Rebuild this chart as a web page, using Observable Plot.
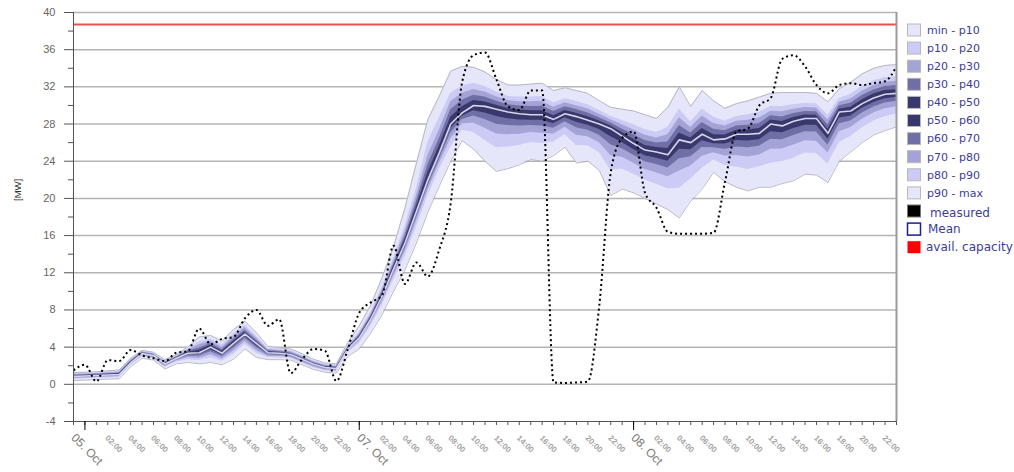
<!DOCTYPE html>
<html>
<head>
<meta charset="utf-8">
<script src="https://cdn.jsdelivr.net/npm/d3@7"></script>
<script src="https://cdn.jsdelivr.net/npm/@observablehq/plot@0.6"></script>
<style>
  html, body { margin: 0; padding: 0; background: #fff; }
  #chart { position: relative; width: 1014px; height: 472px; }
  #legend { position: absolute; left: 896px; top: 0; }
</style>
</head>
<body>
<div id="chart"></div>
<script>
// Hourly forecast distribution of the power output [MW], 05 Oct 23:00 .. 08 Oct 23:00 (UTC)
const start = Date.UTC(2015, 9, 5, 23);

// percentile bands (min = p0, max = p100)
const p0 = [0.40,0.45,0.50,0.55,0.60,1.90,2.80,2.60,1.65,2.20,2.35,2.20,2.35,2.10,2.70,3.80,2.90,2.65,2.65,2.60,2.10,1.60,1.30,1.20,
  3.0,3.8,5.5,7.5,10.0,12.3,15.2,18.5,21.3,
  24.0,26.2,25.3,24.0,22.9,23.2,23.6,24.2,24.0,24.6,25.5,23.8,24.0,23.0,20.3,21.0,20.6,20.0,19.4,18.8,17.9,19.7,21.0,22.8,21.8,21.2,20.8,21.2,21.2,21.6,21.9,22.6,22.5,21.7,24.0,25.0,26.0,26.8,27.3,27.7];
const p10 = [0.54,0.59,0.64,0.69,0.74,2.02,2.95,2.75,1.82,2.38,2.65,2.56,2.85,2.48,3.21,4.28,3.35,2.88,2.86,2.78,2.28,1.77,1.45,1.35,
  3.40,4.40,6.25,8.50,11.20,13.75,16.90,20.25,23.10,
  25.52,27.34,27.09,26.24,25.45,25.52,25.69,26.02,25.90,26.08,26.87,25.70,25.67,24.90,23.04,23.17,22.61,21.98,21.53,21.04,21.09,22.09,23.24,24.13,23.55,23.37,23.12,23.40,23.78,23.96,24.33,24.88,24.82,23.71,26.01,26.67,27.60,28.32,28.78,29.07];
const p20 = [0.63,0.68,0.73,0.78,0.83,2.10,3.05,2.85,1.93,2.50,2.85,2.80,3.18,2.73,3.55,4.60,3.65,3.03,3.00,2.90,2.40,1.88,1.55,1.45,
  3.54,4.62,6.52,8.86,11.63,14.27,17.51,20.88,23.75,
  26.40,28.00,28.12,27.54,26.92,26.86,26.90,27.08,27.00,26.94,27.66,26.80,26.64,26.00,24.62,24.42,23.78,23.12,22.76,22.34,22.94,23.48,24.54,24.90,24.56,24.62,24.46,24.68,25.28,25.32,25.74,26.20,26.16,24.88,27.18,27.64,28.52,29.20,29.64,29.86];
const p30 = [0.72,0.77,0.82,0.87,0.92,2.18,3.15,2.95,2.04,2.62,3.05,3.04,3.51,2.98,3.89,4.92,3.95,3.18,3.14,3.02,2.52,1.99,1.65,1.55,
  3.64,4.76,6.70,9.10,11.92,14.62,17.92,21.30,24.18,
  27.04,28.48,28.87,28.48,27.99,27.84,27.78,27.85,27.80,27.56,28.24,27.60,27.34,26.80,25.77,25.33,24.63,23.95,23.66,23.28,24.28,24.49,25.48,25.46,25.30,25.53,25.44,25.61,26.37,26.31,26.76,27.16,27.14,25.73,28.03,28.34,29.19,29.84,30.26,30.44];
const p40 = [0.78,0.83,0.88,0.93,0.98,2.24,3.23,3.03,2.12,2.71,3.20,3.22,3.75,3.16,4.15,5.16,4.18,3.29,3.25,3.11,2.61,2.07,1.73,1.63,
  3.72,4.88,6.85,9.30,12.16,14.91,18.26,21.65,24.54,
  27.52,28.84,29.44,29.19,28.80,28.57,28.44,28.42,28.40,28.03,28.67,28.20,27.87,27.40,26.64,26.02,25.26,24.58,24.33,23.99,25.29,25.24,26.19,25.88,25.85,26.22,26.17,26.30,27.18,27.06,27.53,27.88,27.87,26.36,28.66,28.87,29.70,30.32,30.73,30.87];
const p50 = [0.85,0.90,0.95,1.00,1.05,2.30,3.30,3.10,2.20,2.80,3.35,3.40,4.00,3.35,4.40,5.40,4.40,3.40,3.35,3.20,2.70,2.15,1.80,1.70,
  3.80,5.00,7.00,9.50,12.40,15.20,18.60,22.00,24.90,
  28.00,29.20,30.00,29.90,29.60,29.30,29.10,29.00,29.00,28.50,29.10,28.80,28.40,28.00,27.50,26.70,25.90,25.20,25.00,24.70,26.30,26.00,26.90,26.30,26.40,26.90,26.90,27.00,28.00,27.80,28.30,28.60,28.60,27.00,29.30,29.40,30.20,30.80,31.20,31.30];
const p60 = [0.91,0.96,1.01,1.07,1.13,2.38,3.35,3.15,2.27,2.86,3.45,3.66,4.19,3.55,4.63,5.61,4.57,3.51,3.43,3.29,2.79,2.23,1.88,1.78,
  3.87,5.13,7.15,9.70,12.64,15.58,19.12,22.78,25.63,
  28.74,29.85,30.53,30.38,30.02,29.68,29.50,29.43,29.44,28.90,29.46,29.16,28.78,28.33,27.80,27.08,26.36,25.69,25.47,25.36,27.04,26.51,27.51,26.85,26.83,27.33,27.37,27.51,28.43,28.27,28.70,28.96,28.95,27.44,29.63,29.80,30.62,31.22,31.60,31.70];
const p70 = [0.98,1.02,1.07,1.14,1.20,2.45,3.41,3.21,2.34,2.92,3.55,3.91,4.38,3.74,4.85,5.82,4.75,3.61,3.52,3.38,2.88,2.32,1.95,1.85,
  3.94,5.26,7.30,9.90,12.88,15.96,19.64,23.63,26.43,
  29.54,30.55,31.11,30.90,30.46,30.08,29.94,29.89,29.92,29.34,29.86,29.56,29.18,28.68,28.12,27.48,26.85,26.23,25.97,26.08,27.84,27.05,28.17,27.43,27.29,27.79,27.87,28.05,28.89,28.77,29.14,29.36,29.33,27.92,29.98,30.24,31.06,31.66,32.04,32.14];
const p80 = [1.06,1.10,1.15,1.23,1.30,2.55,3.48,3.28,2.43,3.00,3.68,4.25,4.63,4.00,5.15,6.10,4.98,3.75,3.63,3.50,3.00,2.43,2.05,1.95,
  4.02,5.42,7.48,10.14,13.17,16.42,20.26,24.60,27.34,
  30.39,31.30,31.72,31.45,30.94,30.52,30.40,30.39,30.43,29.80,30.28,29.98,29.62,29.05,28.47,27.92,27.37,26.80,26.51,26.84,28.69,27.64,28.87,28.06,27.79,28.29,28.41,28.64,29.39,29.31,29.60,29.78,29.73,28.43,30.35,30.70,31.54,32.14,32.50,32.60];
const p90 = [1.14,1.18,1.23,1.32,1.40,2.65,3.55,3.35,2.52,3.08,3.81,4.59,4.88,4.26,5.45,6.38,5.21,3.89,3.74,3.62,3.12,2.54,2.15,2.05,
  4.14,5.62,7.72,10.46,13.55,17.02,21.10,26.03,28.68,
  31.31,32.10,32.38,32.05,31.46,30.98,30.90,30.91,30.97,30.30,30.72,30.42,30.08,29.45,28.83,28.38,27.93,27.40,27.09,27.66,29.61,28.26,29.63,28.74,28.31,28.81,28.99,29.26,29.91,29.89,30.10,30.22,30.17,28.97,30.75,31.20,32.06,32.66,33.00,33.10];
const p100 = [1.27,1.30,1.35,1.45,1.55,2.80,3.65,3.45,2.65,3.20,4.00,5.10,5.25,4.65,5.90,6.80,5.55,4.10,3.90,3.80,3.30,2.70,2.30,2.20,
  4.5,6.3,8.5,11.5,14.8,19.0,23.8,28.5,31.0,
  33.7,34.2,34.1,33.6,32.8,32.2,32.2,32.3,32.4,31.6,31.9,31.6,31.3,30.5,29.8,29.6,29.4,29.0,28.6,29.8,32.0,29.9,31.6,30.5,29.7,30.2,30.5,30.9,31.3,31.4,31.4,31.4,31.3,30.4,31.8,32.5,33.4,34.0,34.3,34.4];

// ensemble mean
const mean = [0.85,0.90,0.95,1.00,1.05,2.30,3.30,3.10,2.20,2.80,3.35,3.40,4.00,3.35,4.40,5.40,4.40,3.40,3.35,3.20,2.70,2.15,1.80,1.70,
  3.80,5.00,7.00,9.50,12.40,15.20,18.60,22.00,24.90,
  28.00,29.20,30.00,29.90,29.60,29.30,29.10,29.00,29.00,28.50,29.10,28.80,28.40,28.00,27.50,26.70,25.90,25.20,25.00,24.70,26.30,26.00,26.90,26.30,26.40,26.90,26.90,27.00,28.00,27.80,28.30,28.60,28.60,27.00,29.30,29.40,30.20,30.80,31.20,31.30];

// measured output
const measured = [1.5,2.1,0.3,2.6,2.5,3.7,3.1,2.8,2.5,3.4,3.55,6.0,4.3,4.9,5.1,7.1,8.0,6.3,7.0,1.2,2.7,3.8,3.6,0.35,
  3.8,7.7,8.8,9.6,14.9,10.8,13.1,11.6,14.5,
  19.5,32.5,35.4,35.7,32.8,29.9,29.5,31.6,31.6,0.2,0.15,0.2,0.3,8.5,22.8,26.5,27.2,20.6,19.0,16.4,16.2,16.2,16.2,16.3,21.8,27.2,27.5,30.0,30.8,35.0,35.4,34.2,32.2,31.3,32.2,32.4,32.2,32.4,32.6,34.2];

// available capacity
const capacity = 38.7;

// axis ticks and labels
const yTicks = [-4, 0, 4, 8, 12, 16, 20, 24, 28, 32, 36, 40];
const yMinorTicks = [-2, 2, 6, 10, 14, 18, 22, 26, 30, 34, 38];
const dayTicks = [Date.UTC(2015, 9, 6), Date.UTC(2015, 9, 7), Date.UTC(2015, 9, 8)];
const dateLabels = ["05. Oct", "07. Oct", "08. Oct"];
const dateLabelTimes = [start, Date.UTC(2015, 9, 7), Date.UTC(2015, 9, 8)];

// legend
const legendLabels = ["min - p10", "p10 - p20", "p20 - p30", "p30 - p40", "p40 - p50",
  "p50 - p60", "p60 - p70", "p70 - p80", "p80 - p90", "p90 - max", "measured", "Mean", "avail. capacity"];
const shade = ["#e6e6fa", "#cbcbf5", "#a3a3d6", "#6f6fa6", "#38386c"];

const hours = d3.range(p50.length).map(i => new Date(start + i * 3600e3));
const end = hours[hours.length - 1];
const rows = hours.map((t, i) => ({
  t, p0: p0[i], p10: p10[i], p20: p20[i], p30: p30[i], p40: p40[i], p50: p50[i],
  p60: p60[i], p70: p70[i], p80: p80[i], p90: p90[i], p100: p100[i],
  mean: mean[i], measured: measured[i]
}));

// nested fills: outermost envelope first, darkest core last
const nested = [["p0", "p100"], ["p10", "p90"], ["p20", "p80"], ["p30", "p70"], ["p40", "p60"]];
const bandMarks = nested.map(([lo, hi], k) =>
  Plot.areaY(rows, {x: "t", y1: lo, y2: hi, fill: shade[k]}));

const hourFmt = d3.utcFormat("%H:%M");
const hourLabelTimes = hours.filter(d => d.getUTCHours() % 2 === 0 && d.getUTCHours() !== 0);
const dateRows = dateLabels.map((label, i) => ({label, t: new Date(dateLabelTimes[i])}));

const chart = Plot.plot({
  width: 1014,
  height: 472,
  marginLeft: 73,
  marginRight: 118,
  marginTop: 12,
  marginBottom: 51,
  style: {fontFamily: "Liberation Sans, Arial, sans-serif", background: "#fff", overflow: "visible"},
  x: {type: "utc", domain: [new Date(start), end]},
  y: {domain: [-4, 40]},
  marks: [
    Plot.gridY(yTicks.filter(v => v > -4), {stroke: "#b4b4b4", strokeOpacity: 1, strokeWidth: 1.5}),
    ...bandMarks,
    Plot.lineY(rows, {x: "t", y: "p0", stroke: "#a9a9b6", strokeWidth: 0.8}),
    Plot.lineY(rows, {x: "t", y: "p100", stroke: "#a9a9b6", strokeWidth: 0.8}),
    Plot.lineY(rows, {x: "t", y: "mean", stroke: "#d6d6ec", strokeWidth: 1.6}),
    Plot.lineY(rows, {x: "t", y: "measured", stroke: "#000", strokeWidth: 2,
      strokeDasharray: "2,3", strokeLinecap: "butt", curve: "monotone-x"}),
    Plot.ruleY([capacity], {stroke: "#e85050", strokeWidth: 2}),
    Plot.ruleX([end], {stroke: "#9a9a9a", strokeWidth: 2}),
    Plot.ruleX([new Date(start)], {stroke: "#555"}),
    Plot.ruleY([-4], {stroke: "#555"}),
    // y axis
    Plot.axisY(yTicks, {tickSize: 9, tickPadding: 9, fontSize: 11, fill: "#666", stroke: "#555",
      label: null, tickFormat: d => String(d)}),
    Plot.axisY(yMinorTicks, {tickSize: 5, fill: "none", stroke: "#555", label: null}),
    Plot.text(["[MW]"], {frameAnchor: "left", dx: -56, dy: -16, rotate: -90, fontSize: 9.5, fill: "#333"}),
    // x axis
    Plot.axisX(hours, {tickSize: 4, fill: "none", stroke: "#555", label: null}),
    Plot.axisX(dayTicks.map(d => new Date(d)), {tickSize: 9, fill: "none", stroke: "#000", label: null}),
    Plot.text(hourLabelTimes, {x: d => d, text: d => hourFmt(d), frameAnchor: "bottom",
      rotate: 45, textAnchor: "start", dx: -3, dy: 17, fontSize: 8, fontWeight: "bold", fill: "#a2a2a2"}),
    Plot.text(dateRows, {x: "t", text: "label", frameAnchor: "bottom",
      rotate: 45, textAnchor: "start", dx: -3, dy: 17, fontSize: 12, fill: "#777"})
  ]
});

const root = document.getElementById("chart");
root.appendChild(chart);

// legend on the right
const legend = d3.select(root).append("svg")
  .attr("id", "legend")
  .attr("width", 118)
  .attr("height", 270)
  .style("font-family", "DejaVu Sans, Verdana, sans-serif");

const swatchFill = [shade[0], shade[1], shade[2], shade[3], shade[4], shade[4], shade[3], shade[2], shade[1], shade[0],
  "#000", "#fff", "#ff0000"];
legendLabels.forEach((label, i) => {
  const cy = 30 + 18.1 * i;
  const g = legend.append("g");
  const special = i >= 10;
  g.append("rect")
    .attr("x", 11.5).attr("y", cy - 6).attr("width", 13).attr("height", 12)
    .attr("fill", swatchFill[i])
    .attr("stroke", i === 11 ? "#1e1e8c" : i === 12 ? "none" : i === 10 ? "#777" : "#b8b8b8")
    .attr("stroke-width", i === 11 ? 1.5 : 1);
  g.append("text")
    .attr("x", i === 10 ? 34 : i === 11 ? 32 : i === 12 ? 30 : 31)
    .attr("y", cy + (i === 10 ? 2 : 0))
    .attr("dy", "0.35em")
    .attr("font-size", special ? 12 : 11)
    .attr("fill", "#3c3c98")
    .text(label);
});
</script>
</body>
</html>
